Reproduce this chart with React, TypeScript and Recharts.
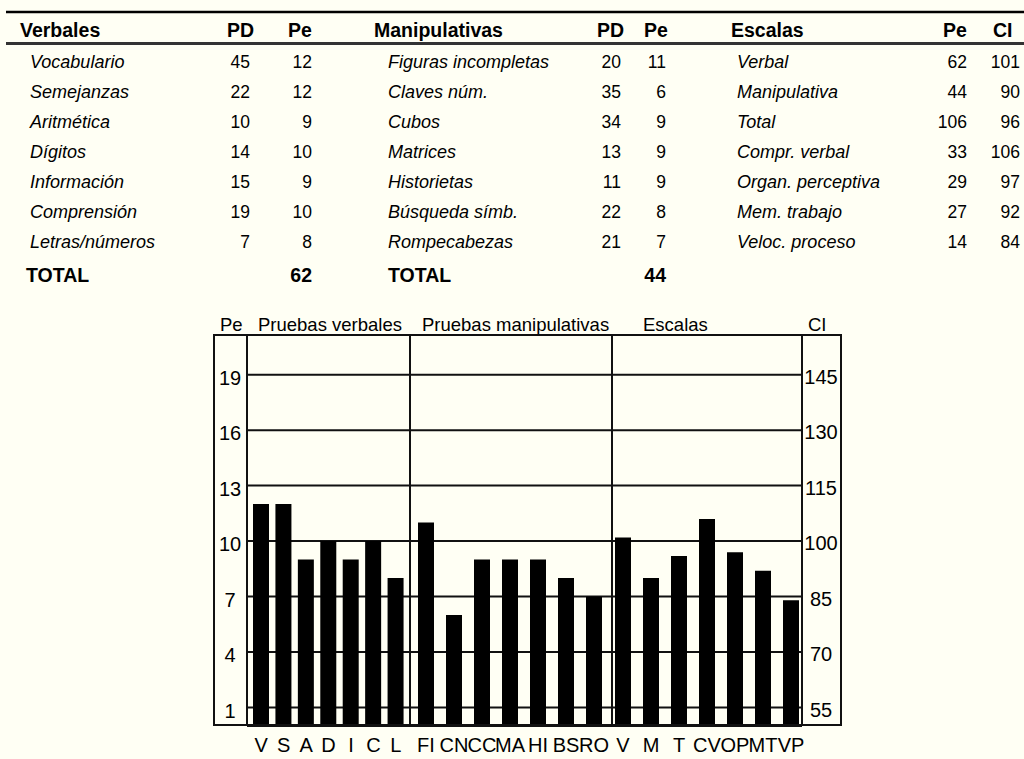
import React from 'react'
import { BarChart, Bar, XAxis, YAxis, CartesianGrid } from 'recharts'

// chart bars
const verbalCats = ['V', 'S', 'A', 'D', 'I', 'C', 'L']
const verbalPe = [12, 12, 9, 10, 9, 10, 8]
const manipCats = ['FI', 'CN', 'CC', 'MA', 'HI', 'BS', 'RO']
const manipPe = [11, 6, 9, 9, 9, 8, 7]
const escalaCats = ['V', 'M', 'T', 'CV', 'OP', 'MT', 'VP']
const escalaCI = [101, 90, 96, 106, 97, 92, 84]

const peTicks = [1, 4, 7, 10, 13, 16, 19]
const ciTicks = [55, 70, 85, 100, 115, 130, 145]

// table
const verbalNames = ['Vocabulario', 'Semejanzas', 'Aritmética', 'Dígitos', 'Información', 'Comprensión', 'Letras/números']
const verbalPD = [45, 22, 10, 14, 15, 19, 7]
const verbalTotal = 62
const manipNames = ['Figuras incompletas', 'Claves núm.', 'Cubos', 'Matrices', 'Historietas', 'Búsqueda símb.', 'Rompecabezas']
const manipPD = [20, 35, 34, 13, 11, 22, 21]
const manipTotal = 44
const escalaNames = ['Verbal', 'Manipulativa', 'Total', 'Compr. verbal', 'Organ. perceptiva', 'Mem. trabajo', 'Veloc. proceso']
const escalaPe = [62, 44, 106, 33, 29, 27, 14]

const verbalData = verbalCats.map((cat, i) => ({ cat, pe: verbalPe[i] }))
const manipData = manipCats.map((cat, i) => ({ cat, pe: manipPe[i] }))
const escalaData = escalaCats.map((cat, i) => ({ cat, ci: escalaCI[i] }))

const FONT = '"Liberation Sans", Arial, Helvetica, sans-serif'
const BG = '#FFFFF4'
const INK = '#111'

const rowY = (i: number) => 68 + 30 * i

const xTick = { fill: '#000', fontSize: 20, fontFamily: FONT }

function Table() {
  const head = { fontWeight: 700, fontSize: 19.5 }
  const label = { fontStyle: 'italic', fontSize: 18 }
  const num = { fontSize: 17.5 }
  return (
    <svg width={1024} height={300} style={{ position: 'absolute', left: 0, top: 0 }} fontFamily={FONT}>
      <line x1={6} x2={1024} y1={12} y2={12} stroke="#000" strokeWidth={2.5} />
      <line x1={6} x2={1024} y1={43.5} y2={43.5} stroke="#333" strokeWidth={3} />
      <g style={head}>
        <text x={20} y={37}>Verbales</text>
        <text x={227} y={37}>PD</text>
        <text x={288} y={37}>Pe</text>
        <text x={374} y={37}>Manipulativas</text>
        <text x={597} y={37}>PD</text>
        <text x={644} y={37}>Pe</text>
        <text x={731} y={37}>Escalas</text>
        <text x={943} y={37}>Pe</text>
        <text x={993} y={37}>CI</text>
      </g>
      {verbalNames.map((n, i) => (
        <g key={'v' + i}>
          <text x={30} y={rowY(i)} style={label}>{n}</text>
          <text x={250} y={rowY(i)} textAnchor="end" style={num}>{verbalPD[i]}</text>
          <text x={312} y={rowY(i)} textAnchor="end" style={num}>{verbalPe[i]}</text>
        </g>
      ))}
      {manipNames.map((n, i) => (
        <g key={'m' + i}>
          <text x={388} y={rowY(i)} style={label}>{n}</text>
          <text x={621} y={rowY(i)} textAnchor="end" style={num}>{manipPD[i]}</text>
          <text x={666} y={rowY(i)} textAnchor="end" style={num}>{manipPe[i]}</text>
        </g>
      ))}
      {escalaNames.map((n, i) => (
        <g key={'e' + i}>
          <text x={737} y={rowY(i)} style={label}>{n}</text>
          <text x={967} y={rowY(i)} textAnchor="end" style={num}>{escalaPe[i]}</text>
          <text x={1020} y={rowY(i)} textAnchor="end" style={num}>{escalaCI[i]}</text>
        </g>
      ))}
      <g style={head}>
        <text x={26} y={282}>TOTAL</text>
        <text x={312} y={282} textAnchor="end">{verbalTotal}</text>
        <text x={388} y={282}>TOTAL</text>
        <text x={666} y={282} textAnchor="end">{manipTotal}</text>
      </g>
    </svg>
  )
}

function VLine({ x }: { x: number }) {
  return <div style={{ position: 'absolute', left: x - 1, top: 334, width: 2, height: 392, background: INK }} />
}

export default function App() {
  const plotH = 426
  return (
    <div style={{ position: 'fixed', left: 0, top: 0, width: 1024, height: 759, background: BG, overflow: 'hidden', fontFamily: FONT }}>
      <Table />

      <svg width={1024} height={40} style={{ position: 'absolute', left: 0, top: 300 }} fontFamily={FONT} fontSize={18.5}>
        <text x={220} y={31}>Pe</text>
        <text x={258} y={31}>Pruebas verbales</text>
        <text x={422} y={31}>Pruebas manipulativas</text>
        <text x={643} y={31}>Escalas</text>
        <text x={808} y={31}>CI</text>
      </svg>

      <div style={{ position: 'absolute', left: 213, top: 334 }}>
        <BarChart width={197} height={plotH} data={verbalData} margin={{ top: 0, right: 0, bottom: 0, left: 0 }}>
          <CartesianGrid vertical={false} stroke={INK} strokeWidth={2} />
          <XAxis dataKey="cat" height={34} interval={0} axisLine={false} tickLine={false} tickSize={6} tickMargin={6} tick={xTick} padding={{ left: 3, right: 3 }} />
          <YAxis type="number" domain={[0, 21.2]} allowDataOverflow ticks={peTicks} width={34} axisLine={false} tickLine={false} tickSize={0} tickMargin={17} tick={{ ...xTick, textAnchor: 'middle', dy: 3 }} />
          <Bar dataKey="pe" fill="#000" barSize={16} isAnimationActive={false} />
        </BarChart>
      </div>

      <div style={{ position: 'absolute', left: 410, top: 334 }}>
        <BarChart width={202} height={plotH} data={manipData} margin={{ top: 0, right: 0, bottom: 0, left: 0 }}>
          <CartesianGrid vertical={false} stroke={INK} strokeWidth={2} />
          <XAxis dataKey="cat" height={34} interval={0} axisLine={false} tickLine={false} tickSize={6} tickMargin={6} tick={xTick} padding={{ left: 2, right: 4 }} />
          <YAxis type="number" domain={[0, 21.2]} allowDataOverflow ticks={peTicks} hide />
          <Bar dataKey="pe" fill="#000" barSize={16} isAnimationActive={false} />
        </BarChart>
      </div>

      <div style={{ position: 'absolute', left: 612, top: 334 }}>
        <BarChart width={230} height={plotH} data={escalaData} margin={{ top: 0, right: 0, bottom: 0, left: 0 }}>
          <CartesianGrid vertical={false} yAxisId="ci" stroke={INK} strokeWidth={2} />
          <XAxis dataKey="cat" height={34} interval={0} axisLine={false} tickLine={false} tickSize={6} tickMargin={6} tick={xTick} padding={{ left: -3, right: -3 }} />
          <YAxis yAxisId="ci" orientation="right" type="number" domain={[50, 156]} allowDataOverflow ticks={ciTicks} width={40} axisLine={false} tickLine={false} tickSize={0} tickMargin={19} tick={{ ...xTick, textAnchor: 'middle', dy: 2 }} />
          <Bar yAxisId="ci" dataKey="ci" fill="#000" barSize={16} isAnimationActive={false} />
        </BarChart>
      </div>

      <div style={{ position: 'absolute', left: 213, top: 334, width: 629, height: 392, border: `2px solid ${INK}`, boxSizing: 'border-box', pointerEvents: 'none' }} />
      <VLine x={247} />
      <VLine x={410} />
      <VLine x={612} />
      <VLine x={802} />
    </div>
  )
}
